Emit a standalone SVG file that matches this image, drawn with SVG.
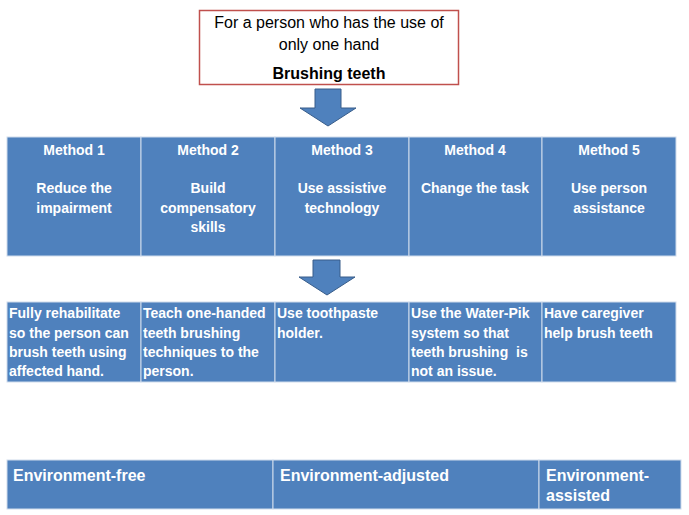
<svg xmlns="http://www.w3.org/2000/svg" width="689" height="515" viewBox="0 0 689 515">
<style>
.cell{fill:#4f81bd;stroke:#d0dcec;stroke-width:1}
.t{font-family:"Liberation Sans",Arial,sans-serif;font-weight:bold;font-size:14px;fill:#ffffff;white-space:pre}
.c{text-anchor:middle}
.e{font-size:16px}
.top{font-family:"Liberation Sans",Arial,sans-serif;font-size:16px;fill:#000000;text-anchor:middle}
.arrow{fill:#4f81bd;stroke:#385d8a;stroke-width:1}
</style>
<rect width="689" height="515" fill="#ffffff"/>
<g id="title">
<rect x="199.5" y="10.5" width="259" height="74" fill="#ffffff" stroke="#c0504d" stroke-width="1.5"/>
<text class="top" x="329" y="28">For a person who has the use of</text>
<text class="top" x="329" y="50">only one hand</text>
<text class="top" x="329" y="79" font-weight="bold">Brushing teeth</text>
</g>
<g id="connectors">
<path class="arrow" d="M315,89 L341,89 L341,108 L356,108 L328,126 L300,108 L315,108 Z"/>
<path class="arrow" d="M313,260 L340,260 L340,277 L355,277 L327,295 L299,277 L313,277 Z"/>
</g>
<g id="method1">
<rect class="cell" x="7" y="137" width="134" height="119"/>
<text class="t c" x="74" y="155">Method 1</text>
<text class="t c" x="74" y="193">Reduce the</text>
<text class="t c" x="74" y="213">impairment</text>
</g>
<g id="method2">
<rect class="cell" x="141" y="137" width="134" height="119"/>
<text class="t c" x="208" y="155">Method 2</text>
<text class="t c" x="208" y="193">Build</text>
<text class="t c" x="208" y="213">compensatory</text>
<text class="t c" x="208" y="232">skills</text>
</g>
<g id="method3">
<rect class="cell" x="275" y="137" width="134" height="119"/>
<text class="t c" x="342" y="155">Method 3</text>
<text class="t c" x="342" y="193">Use assistive</text>
<text class="t c" x="342" y="213">technology</text>
</g>
<g id="method4">
<rect class="cell" x="409" y="137" width="133" height="119"/>
<text class="t c" x="475" y="155">Method 4</text>
<text class="t c" x="475" y="193">Change the task</text>
</g>
<g id="method5">
<rect class="cell" x="542" y="137" width="134" height="119"/>
<text class="t c" x="609" y="155">Method 5</text>
<text class="t c" x="609" y="193">Use person</text>
<text class="t c" x="609" y="213">assistance</text>
</g>
<g id="example1">
<rect class="cell" x="7" y="302" width="134" height="80"/>
<text class="t" x="9" y="318">Fully rehabilitate</text>
<text class="t" x="9" y="338">so the person can</text>
<text class="t" x="9" y="357">brush teeth using</text>
<text class="t" x="9" y="376">affected hand.</text>
</g>
<g id="example2">
<rect class="cell" x="141" y="302" width="134" height="80"/>
<text class="t" x="143" y="318">Teach one-handed</text>
<text class="t" x="143" y="338">teeth brushing</text>
<text class="t" x="143" y="357">techniques to the</text>
<text class="t" x="143" y="376">person.</text>
</g>
<g id="example3">
<rect class="cell" x="275" y="302" width="134" height="80"/>
<text class="t" x="277" y="318">Use toothpaste</text>
<text class="t" x="277" y="338">holder.</text>
</g>
<g id="example4">
<rect class="cell" x="409" y="302" width="133" height="80"/>
<text class="t" x="411" y="318">Use the Water-Pik</text>
<text class="t" x="411" y="338">system so that</text>
<text class="t" x="411" y="357">teeth brushing  is</text>
<text class="t" x="411" y="376">not an issue.</text>
</g>
<g id="example5">
<rect class="cell" x="542" y="302" width="134" height="80"/>
<text class="t" x="544" y="318">Have caregiver</text>
<text class="t" x="544" y="338">help brush teeth</text>
</g>
<g id="env-free">
<rect class="cell" x="7" y="460" width="266" height="49"/>
<text class="t e" x="13" y="481">Environment-free</text>
</g>
<g id="env-adjusted">
<rect class="cell" x="273" y="460" width="266" height="49"/>
<text class="t e" x="280" y="481">Environment-adjusted</text>
</g>
<g id="env-assisted">
<rect class="cell" x="539" y="460" width="142" height="49"/>
<text class="t e" x="546" y="481">Environment-</text>
<text class="t e" x="546" y="501">assisted</text>
</g>
</svg>
